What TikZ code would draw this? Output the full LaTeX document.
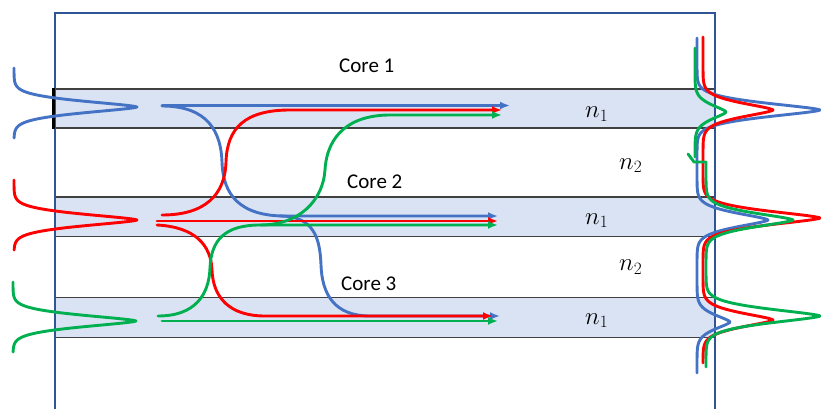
\documentclass[tikz,border=0pt]{standalone}
\usepackage{fontspec}
\setmainfont{Carlito}
\usetikzlibrary{arrows.meta}
\definecolor{boxblue}{HTML}{2F5597}
\definecolor{corefill}{HTML}{DAE3F3}
\definecolor{coreline}{HTML}{404040}
\definecolor{lblue}{HTML}{4472C4}
\definecolor{lred}{HTML}{FF0000}
\definecolor{lgreen}{HTML}{00B050}
\tikzset{
  corebar/.style={fill=corefill, draw=none},
  coreedge/.style={draw=coreline, line width=1.6pt},
  trace/.style={line width=2.9pt, line cap=round, line join=round},
  arr/.style={-{Latex[length=10pt,width=8pt]}},
  corelabel/.style={anchor=base west, inner sep=0pt, font=\fontsize{21}{21}\selectfont},
  idx/.style={anchor=base west, inner sep=0pt, font=\fontsize{25}{25}\selectfont},
  declare function={pk(\y,\c,\w)=exp(-(abs(\y-\c)/\w)*sqrt(abs(\y-\c)/\w));},
}
\begin{document}
\begin{tikzpicture}[x=1pt,y=-1pt]
\useasboundingbox (0,0) rectangle (821,409);
\clip (0,0) rectangle (821,409);
% cores
\foreach \t/\b in {89/128, 197/236.5, 297.5/337.5}{
  \fill[corebar] (55,\t) rectangle (715,\b);
  \draw[coreedge] (55,\t) -- (715,\t);
  \draw[coreedge] (55,\b) -- (715,\b);
}
% outer box
\draw[boxblue, line width=2.6pt] (55,13) rectangle (715,430);
\draw[black, line width=3pt] (53,88.5) -- (53,128.5);
% labels
\node[corelabel] (core1) at (339,72.7) {Core 1};
\node[corelabel] (core2) at (347,188.3) {Core 2};
\node[corelabel] (core3) at (341,290.7) {Core 3};
\node[idx] (na) at (585,117.5) {$n_1$};
\node[idx] (nb) at (619,169) {$n_2$};
\node[idx] (nc) at (585,224) {$n_1$};
\node[idx] (nd) at (619,270.5) {$n_2$};
\node[idx] (ne) at (585,324) {$n_1$};
% left input profiles
\draw[trace, lblue] plot[domain=68:138, samples=141, variable=\t] ({14+123*pk(\t,107,8.5)}, \t);
\draw[trace, lred] plot[domain=180:250, samples=141, variable=\t] ({14+123*pk(\t,220,8.5)}, \t);
\draw[trace, lgreen] plot[domain=282:352, samples=141, variable=\t] ({13+123*pk(\t,321,8.5)}, \t);
% blue propagation
\draw[trace, lblue, arr] (162,105.5) -- (510,105.5);
\draw[trace, lblue, arr] (162,106) .. controls (208,106) and (221,132) .. (222,162)
   .. controls (223,195) and (240,216) .. (285,216) -- (498,216);
\draw[trace, lblue, arr] (280,216) .. controls (315,216) and (320,240) .. (321,265)
   .. controls (322,295) and (335,316) .. (370,316) -- (500,316);
% red propagation
\draw[trace, lred, arr] (162,215) .. controls (205,215) and (225,195) .. (226,162)
   .. controls (227,128) and (245,110) .. (290,110) -- (502,110);
\draw[trace, lred, arr] (157,221) -- (498,221);
\draw[trace, lred, arr] (157,225) .. controls (195,227) and (211,245) .. (212,270)
   .. controls (213,298) and (230,316) .. (265,316) -- (493,316);
% green propagation
\draw[trace, lgreen, arr] (162,321) -- (498,321);
\draw[trace, lgreen, arr] (158,316) .. controls (195,316) and (209,295) .. (210,268)
   .. controls (211,240) and (225,225) .. (260,225) -- (498,225);
\draw[trace, lgreen, arr] (260,225) .. controls (300,225) and (323,200) .. (325,170)
   .. controls (327,135) and (350,115) .. (390,115) -- (502,115);
% right output profiles
\draw[trace, lblue] plot[domain=38:373, samples=671, variable=\t]
  ({697+123*pk(\t,110,10)+71*pk(\t,220,10)+33*pk(\t,322,10)}, \t);
\draw[trace, lred] plot[domain=37:363, samples=653, variable=\t]
  ({703+70*pk(\t,110,10)+117*pk(\t,218,10)+70*pk(\t,320,10)}, \t);
\draw[trace, lgreen] plot[domain=48:157, samples=219, variable=\t]
  ({695+31*pk(\t,112,10)}, \t);
\draw[trace, lgreen] (688,154) -- (694,162) -- (706,162);
\draw[trace, lgreen] plot[domain=162:367, samples=411, variable=\t]
  ({706+87*pk(\t,220,10)+114*pk(\t,316,10)}, \t);
\end{tikzpicture}
\end{document}
